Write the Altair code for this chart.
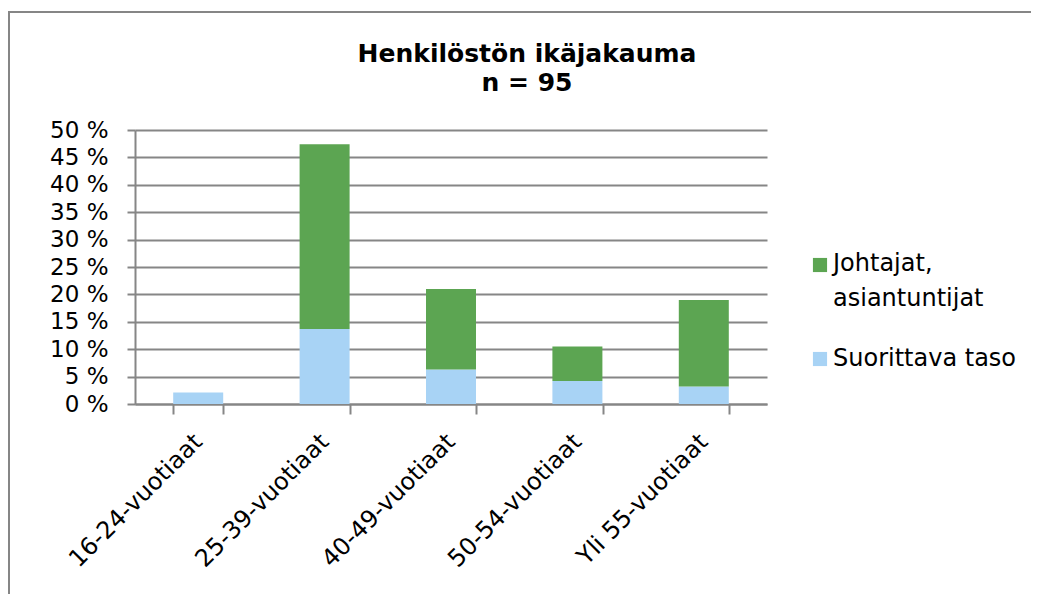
import altair as alt
import pandas as pd

categories = ["16-24-vuotiaat", "25-39-vuotiaat", "40-49-vuotiaat", "50-54-vuotiaat", "Yli 55-vuotiaat"]
series_names = ["Johtajat, asiantuntijat", "Suorittava taso"]
legend_lines = [["Johtajat,", "asiantuntijat"], ["Suorittava taso"]]
suorittava = [2.1, 13.7, 6.3, 4.2, 3.2]
johtajat = [0.0, 33.7, 14.7, 6.3, 15.8]
colors = ["#5CA552", "#A8D3F5"]
title_lines = ["Henkilöstön ikäjakauma", "n = 95"]

rows = []
for c, s, j in zip(categories, suorittava, johtajat):
    rows.append({"cat": c, "series": series_names[1], "value": s, "ord": 0})
    rows.append({"cat": c, "series": series_names[0], "value": j, "ord": 1})
df = pd.DataFrame(rows)

gray = "#868686"
font = "DejaVu Sans"
fs = 23

bars = alt.Chart(df).mark_bar(size=50).encode(
    x=alt.X("cat:N", sort=categories, title=None,
            scale=alt.Scale(paddingInner=0.6, paddingOuter=0.3),
            axis=alt.Axis(labelAngle=-45, labelAlign="right", labelBaseline="middle",
                          labelFontSize=24, labelFont=font, labelColor="#000000",
                          tickBand="extent", tickSize=10, tickColor=gray, tickWidth=2,
                          domainColor=gray, domainWidth=2, labelPadding=24, grid=False)),
    y=alt.Y("value:Q", stack="zero", title=None,
            scale=alt.Scale(domain=[0, 50], nice=False),
            axis=alt.Axis(values=list(range(0, 55, 5)), labelExpr="datum.value + ' %'",
                          labelFontSize=fs, labelFont=font, labelColor="#000000",
                          tickSize=8, tickColor=gray, tickWidth=2,
                          domainColor=gray, domainWidth=2, grid=True, gridColor=gray,
                          gridWidth=2, labelPadding=19)),
    color=alt.Color("series:N", scale=alt.Scale(domain=series_names, range=colors),
                    legend=None),
    order=alt.Order("ord:Q"),
)

one = pd.DataFrame({"k": [0]})

frame = alt.Chart(one).mark_rect(
    fill=None, stroke=gray, strokeWidth=2
).encode(x=alt.value(-126), x2=alt.value(1000), y=alt.value(-118), y2=alt.value(700))

title1 = alt.Chart(one).mark_text(
    font=font, fontSize=25, fontWeight="bold", color="#000000",
    align="center", baseline="alphabetic"
).encode(x=alt.value(392), y=alt.value(-68), text=alt.value(title_lines[0]))
title2 = alt.Chart(one).mark_text(
    font=font, fontSize=25, fontWeight="bold", color="#000000",
    align="center", baseline="alphabetic"
).encode(x=alt.value(392), y=alt.value(-39), text=alt.value(title_lines[1]))

leg_sym1 = alt.Chart(one).mark_square(size=200, opacity=1).encode(
    x=alt.value(685), y=alt.value(135), color=alt.value(colors[0]))
leg_sym2 = alt.Chart(one).mark_square(size=200, opacity=1).encode(
    x=alt.value(685), y=alt.value(229), color=alt.value(colors[1]))
leg_txt1 = alt.Chart(one).mark_text(
    font=font, fontSize=24, color="#000000", align="left", baseline="alphabetic",
    lineHeight=35
).encode(x=alt.value(698), y=alt.value(141), text=alt.value(legend_lines[0]))
leg_txt2 = alt.Chart(one).mark_text(
    font=font, fontSize=24, color="#000000", align="left", baseline="alphabetic"
).encode(x=alt.value(698), y=alt.value(236), text=alt.value(legend_lines[1][0]))

chart = alt.layer(frame, bars, title1, title2, leg_sym1, leg_sym2, leg_txt1, leg_txt2).properties(
    width=632, height=274,
    autosize=alt.AutoSizeParams(type="none"),
    padding={"left": 127, "top": 122, "right": 264, "bottom": 190},
).configure_view(stroke=None)

chart.save("out.html", embed_options={"renderer": "svg", "actions": False})
